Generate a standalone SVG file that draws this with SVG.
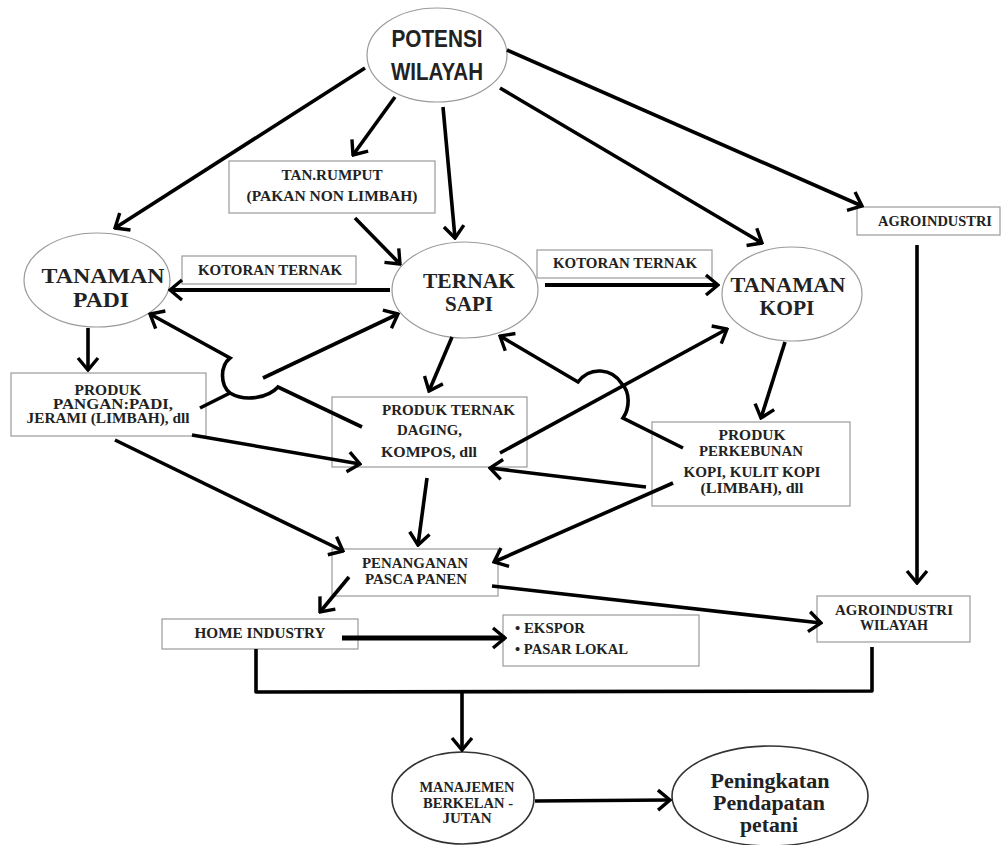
<svg xmlns="http://www.w3.org/2000/svg" width="1001" height="845" viewBox="0 0 1001 845">
<style>
.bg{fill:#fff}
.box{fill:#fff;stroke:#9a9a9a;stroke-width:1.2}
.ell{fill:#fff;stroke:#9a9a9a;stroke-width:1.2}
.ell2{fill:#fff;stroke:#333;stroke-width:1.6}
.t{font-family:"Liberation Serif","Times New Roman",serif;font-weight:bold;fill:#222;text-anchor:middle}
.ts{font-family:"Liberation Sans",Arial,sans-serif;font-weight:bold;fill:#222;text-anchor:middle}
.tl{font-family:"Liberation Serif","Times New Roman",serif;font-weight:bold;fill:#222;text-anchor:start}
.c{fill:none;stroke:#000;stroke-width:3.6;stroke-linejoin:round}
.ca{fill:none;stroke:#000;stroke-width:3.6;marker-end:url(#ah)}
</style>
<defs>
<marker id="ah" viewBox="0 0 16 24" refX="14" refY="12" markerWidth="16" markerHeight="24" markerUnits="userSpaceOnUse" orient="auto">
<path d="M2,2 L14,12 L2,22" fill="none" stroke="#000" stroke-width="3.4" stroke-linejoin="miter"/>
</marker>
</defs>
<rect class="bg" x="0" y="0" width="1001" height="845"/>

<g id="potensi">
<ellipse class="ell" cx="437" cy="55" rx="70" ry="47"/>
<text class="ts" x="437" y="47" font-size="23" textLength="91" lengthAdjust="spacingAndGlyphs">POTENSI</text>
<text class="ts" x="437" y="80" font-size="23" textLength="92" lengthAdjust="spacingAndGlyphs">WILAYAH</text>
</g>

<g id="tanrumput">
<rect class="box" x="229" y="161" width="206" height="52"/>
<text class="t" x="332" y="180" font-size="15" textLength="101" lengthAdjust="spacingAndGlyphs">TAN.RUMPUT</text>
<text class="t" x="332" y="201" font-size="15" textLength="171" lengthAdjust="spacingAndGlyphs">(PAKAN NON LIMBAH)</text>
</g>

<g id="agroindustri">
<rect class="box" x="857" y="207" width="143" height="28"/>
<text class="t" x="935" y="226" font-size="14" textLength="114" lengthAdjust="spacingAndGlyphs">AGROINDUSTRI</text>
</g>

<g id="tanamanpadi">
<ellipse class="ell" cx="97" cy="280" rx="73" ry="47"/>
<text class="t" x="103" y="283" font-size="22" textLength="123" lengthAdjust="spacingAndGlyphs">TANAMAN</text>
<text class="t" x="101" y="307" font-size="22" textLength="56" lengthAdjust="spacingAndGlyphs">PADI</text>
</g>

<g id="kotoran1">
<rect class="box" x="182" y="256" width="174" height="28"/>
<text class="t" x="270" y="275" font-size="15" textLength="144" lengthAdjust="spacingAndGlyphs">KOTORAN TERNAK</text>
</g>

<g id="ternaksapi">
<ellipse class="ell" cx="465" cy="290" rx="73" ry="48"/>
<text class="t" x="469" y="288" font-size="22" textLength="92" lengthAdjust="spacingAndGlyphs">TERNAK</text>
<text class="t" x="469" y="311" font-size="22" textLength="48" lengthAdjust="spacingAndGlyphs">SAPI</text>
</g>

<g id="kotoran2">
<rect class="box" x="537" y="250" width="175" height="28"/>
<text class="t" x="625" y="268" font-size="15" textLength="144" lengthAdjust="spacingAndGlyphs">KOTORAN TERNAK</text>
</g>

<g id="tanamankopi">
<ellipse class="ell" cx="792" cy="294" rx="70" ry="47"/>
<text class="t" x="788" y="292" font-size="21" textLength="115" lengthAdjust="spacingAndGlyphs">TANAMAN</text>
<text class="t" x="787" y="315" font-size="21" textLength="55" lengthAdjust="spacingAndGlyphs">KOPI</text>
</g>

<g id="produkpangan">
<rect class="box" x="11" y="373" width="195" height="63"/>
<text class="t" x="108" y="395" font-size="14" textLength="67" lengthAdjust="spacingAndGlyphs">PRODUK</text>
<text class="t" x="113" y="409" font-size="14" textLength="120" lengthAdjust="spacingAndGlyphs">PANGAN:PADI,</text>
<text class="t" x="108" y="423" font-size="14" textLength="163" lengthAdjust="spacingAndGlyphs">JERAMI (LIMBAH), dll</text>
</g>

<g id="produkternak">
<rect class="box" x="332" y="397" width="195" height="70"/>
<text class="tl" x="382" y="415" font-size="15" textLength="133" lengthAdjust="spacingAndGlyphs">PRODUK TERNAK</text>
<text class="tl" x="397" y="435" font-size="15" textLength="65" lengthAdjust="spacingAndGlyphs">DAGING,</text>
<text class="tl" x="381" y="457" font-size="15" textLength="96" lengthAdjust="spacingAndGlyphs">KOMPOS, dll</text>
</g>

<g id="produkperkebunan">
<rect class="box" x="652" y="422" width="198" height="84"/>
<text class="t" x="752" y="440" font-size="15" textLength="67" lengthAdjust="spacingAndGlyphs">PRODUK</text>
<text class="t" x="751" y="456" font-size="15" textLength="104" lengthAdjust="spacingAndGlyphs">PERKEBUNAN</text>
<text class="t" x="752" y="477" font-size="15" textLength="137" lengthAdjust="spacingAndGlyphs">KOPI, KULIT KOPI</text>
<text class="t" x="752" y="493" font-size="15" textLength="103" lengthAdjust="spacingAndGlyphs">(LIMBAH), dll</text>
</g>

<g id="penanganan">
<rect class="box" x="332" y="549" width="166" height="47"/>
<text class="t" x="415" y="568" font-size="14" textLength="106" lengthAdjust="spacingAndGlyphs">PENANGANAN</text>
<text class="t" x="416" y="584" font-size="14" textLength="102" lengthAdjust="spacingAndGlyphs">PASCA PANEN</text>
</g>

<g id="homeindustry">
<rect class="box" x="162" y="619" width="196" height="30"/>
<text class="t" x="260" y="638" font-size="15" textLength="131" lengthAdjust="spacingAndGlyphs">HOME INDUSTRY</text>
</g>

<g id="ekspor">
<rect class="box" x="503" y="615" width="196" height="51"/>
<text class="tl" x="515" y="633" font-size="15" textLength="70" lengthAdjust="spacingAndGlyphs">• EKSPOR</text>
<text class="tl" x="515" y="654" font-size="15" textLength="113" lengthAdjust="spacingAndGlyphs">• PASAR LOKAL</text>
</g>

<g id="agrowilayah">
<rect class="box" x="817" y="596" width="153" height="46"/>
<text class="t" x="894" y="615" font-size="14" textLength="118" lengthAdjust="spacingAndGlyphs">AGROINDUSTRI</text>
<text class="t" x="894" y="630" font-size="14" textLength="68" lengthAdjust="spacingAndGlyphs">WILAYAH</text>
</g>

<g id="manajemen">
<ellipse class="ell2" cx="463" cy="798" rx="71" ry="46"/>
<text class="t" x="467" y="792" font-size="14" textLength="95" lengthAdjust="spacingAndGlyphs">MANAJEMEN</text>
<text class="t" x="468" y="808" font-size="14" textLength="90" lengthAdjust="spacingAndGlyphs">BERKELAN -</text>
<text class="t" x="467" y="823" font-size="14" textLength="49" lengthAdjust="spacingAndGlyphs">JUTAN</text>
</g>

<g id="peningkatan">
<ellipse class="ell2" cx="770" cy="796" rx="98" ry="50"/>
<text class="t" x="770" y="788" font-size="20" textLength="119" lengthAdjust="spacingAndGlyphs">Peningkatan</text>
<text class="t" x="769" y="810" font-size="20" textLength="112" lengthAdjust="spacingAndGlyphs">Pendapatan</text>
<text class="t" x="769" y="832" font-size="20" textLength="58" lengthAdjust="spacingAndGlyphs">petani</text>
</g>

<g id="connectors">
<line class="ca" x1="365" y1="68" x2="115" y2="228"/>
<line class="ca" x1="395" y1="97" x2="353" y2="155"/>
<line class="ca" x1="443" y1="107" x2="455" y2="238"/>
<line class="ca" x1="500" y1="88" x2="762" y2="243"/>
<line class="ca" x1="507" y1="50" x2="862" y2="206"/>
<line class="ca" x1="355" y1="218" x2="400" y2="264"/>
<line class="ca" x1="390" y1="290" x2="170" y2="290" style="stroke-width:4"/>
<line class="ca" x1="545" y1="285" x2="718" y2="285" style="stroke-width:4"/>
<line class="ca" x1="88" y1="328" x2="88" y2="370"/>
<path class="ca" d="M362,427 L278,387 C268,398 245,402 230,393 C220,385 220,366 230,358 L150,314"/>
<path class="c" d="M200,408 L230,393"/>
<line class="ca" x1="263" y1="378" x2="398" y2="314"/>
<line class="ca" x1="452" y1="337" x2="429" y2="391"/>
<line class="ca" x1="785" y1="342" x2="761" y2="418"/>
<path class="ca" d="M683,448 L623,418 C630,408 630,392 622,384 C612,368 590,366 578,382 L500,336"/>
<line class="ca" x1="500" y1="453" x2="727" y2="329"/>
<line class="ca" x1="192" y1="435" x2="360" y2="464"/>
<line class="ca" x1="115" y1="440" x2="343" y2="551"/>
<line class="ca" x1="427" y1="478" x2="418" y2="545"/>
<line class="ca" x1="646" y1="487" x2="490" y2="468"/>
<line class="ca" x1="673" y1="483" x2="494" y2="562"/>
<line class="ca" x1="917" y1="245" x2="917" y2="583"/>
<line class="ca" x1="349" y1="577" x2="320" y2="612"/>
<line class="ca" x1="492" y1="586" x2="821" y2="623"/>
<line class="ca" x1="342" y1="638" x2="505" y2="638" style="stroke-width:5"/>
<path class="c" d="M256,649 L256,692 L872,691 L872,647"/>
<line class="ca" x1="462" y1="692" x2="462" y2="750"/>
<line class="ca" x1="535" y1="801" x2="670" y2="800"/>
</g>
</svg>
